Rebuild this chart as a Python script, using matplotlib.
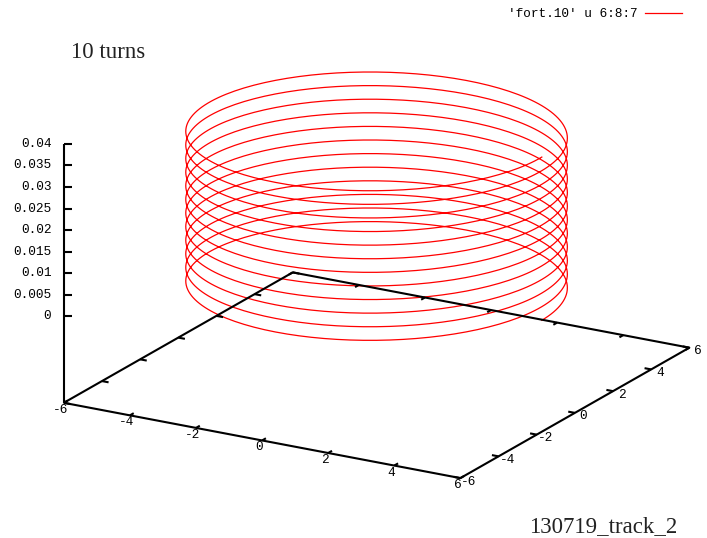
import numpy as np
import matplotlib
matplotlib.use('Agg')
import matplotlib.pyplot as plt
from matplotlib.transforms import offset_copy
from mpl_toolkits.mplot3d import proj3d

# helix (radius, turns, z span)
n_turns = 12
radius = 5.0
z_start = 0.0
z_end = 0.0378

xy_ticks = [-6, -4, -2, 0, 2, 4, 6]
xy_labels = ['-6', '-4', '-2', '0', '2', '4', '6']
z_ticks = [0, 0.005, 0.01, 0.015, 0.02, 0.025, 0.03, 0.035, 0.04]
z_labels = ['0', '0.005', '0.01', '0.015', '0.02', '0.025', '0.03', '0.035', '0.04']
z_base = -0.02  # gnuplot ticslevel 0.5

title = '10 turns'
footer = '130719_track_2'
key = "'fort.10' u 6:8:7"

W, H = 707, 538
tick_font = {'family': 'Liberation Mono', 'size': 9.2}
serif_font = {'family': 'Liberation Serif', 'size': 16.5}

theta = np.linspace(0, 2 * np.pi * n_turns, n_turns * 180 + 1)
hx = radius * np.cos(theta)
hy = radius * np.sin(theta)
hz = np.linspace(z_start, z_end, theta.size)

fig = plt.figure(figsize=(W / 100, H / 100), dpi=100)
ax = fig.add_subplot(projection='3d', proj_type='ortho')
ax.set_position([100.3 / W, 16 / H, H / W, 1.0])
ax.computed_zorder = False
ax.set_xlim(xy_ticks[0], xy_ticks[-1])
ax.set_ylim(xy_ticks[0], xy_ticks[-1])
ax.set_zlim(z_base, z_ticks[-1])
ax.set_box_aspect((1, 1, 0.599), zoom=1.269)
ax.view_init(elev=19.2, azim=-60)
ax.set_axis_off()

ax.plot(hx, hy, hz, color='red', lw=0.9, zorder=1, label=key, clip_on=False)

lo, hi = xy_ticks[0], xy_ticks[-1]
k = dict(color='black', lw=1.5, zorder=3, solid_capstyle='butt', clip_on=False)
ax.plot([lo, hi, hi, lo, lo], [lo, lo, hi, hi, lo], [z_base] * 5, **k)
ax.plot([lo, lo], [lo, lo], [z_base, z_ticks[-1]], **k)

tl = 0.2
for v in xy_ticks:
    ax.plot([v, v], [lo, lo + tl], [z_base, z_base], **k)
    ax.plot([v, v], [hi, hi - tl], [z_base, z_base], **k)
    ax.plot([lo, lo + tl], [v, v], [z_base, z_base], **k)
    ax.plot([hi, hi - tl], [v, v], [z_base, z_base], **k)
ax.plot([lo] * len(z_ticks), [lo] * len(z_ticks), z_ticks, ls='none',
        marker=1, ms=6, mew=1.5, color='black', zorder=3, clip_on=False)


def label(x, y, z, s, dx, dy, **kw):
    # project the 3d anchor, then place a plain 2d text there
    px, py, _ = proj3d.proj_transform(x, y, z, ax.get_proj())
    tr = offset_copy(ax.transData, fig=fig, x=dx, y=dy, units='dots')
    ax.text2D(px, py, s, transform=tr, clip_on=False, **kw, **tick_font)


for v, s in zip(xy_ticks, xy_labels):
    label(v, lo, z_base, s, -3, -7, ha='center', va='center')
    label(hi, v, z_base, s, 8.5, -3.5, ha='center', va='center')
for v, s in zip(z_ticks, z_labels):
    label(lo, lo, v, s, -12.5, 0, ha='right', va='center')

fig.text(71 / W, 1 - 58 / H, title, va='baseline', color='#222222', **serif_font)
fig.text(529 / W, 1 - 532 / H, footer, va='baseline', color='#222222', **serif_font)

fig.legend(loc='center right', bbox_to_anchor=(682 / W, 1 - 14 / H), frameon=False,
           markerfirst=False, handlelength=2.9, handletextpad=0.6, borderpad=0,
           borderaxespad=0, prop=tick_font)

fig.savefig('out.png', dpi=100)
